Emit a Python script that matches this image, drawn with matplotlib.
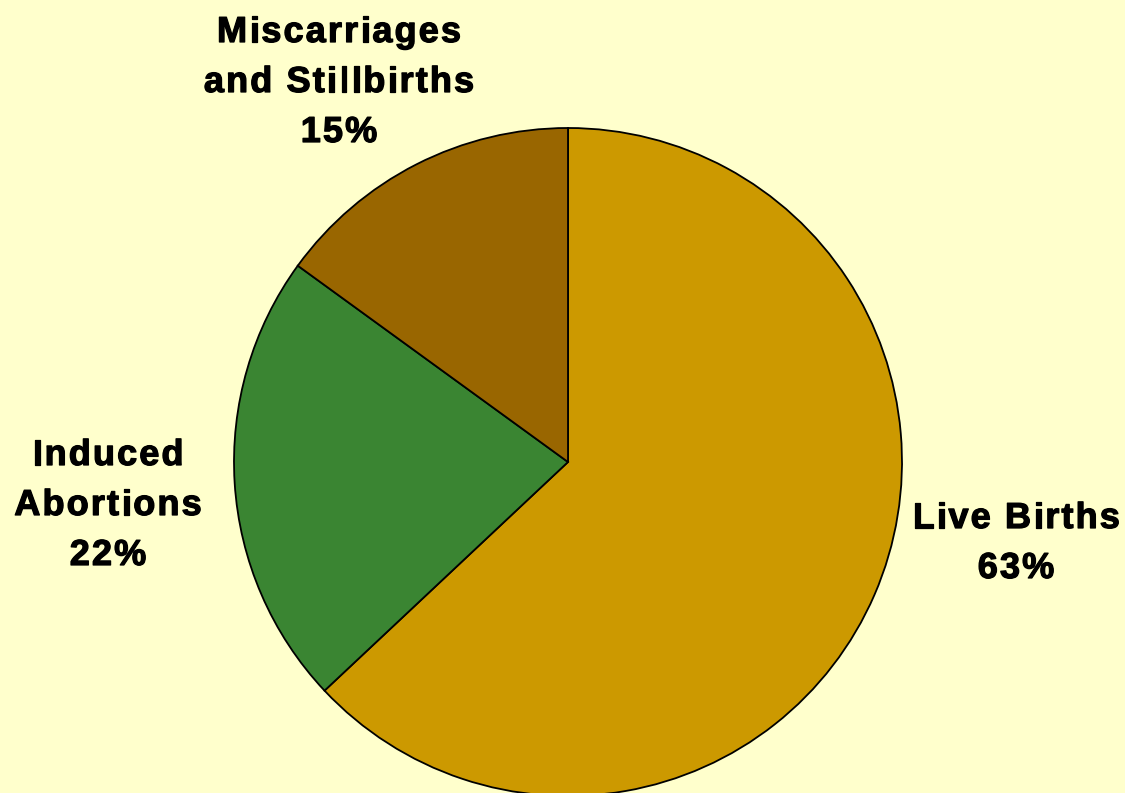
import matplotlib
matplotlib.use("Agg")
import matplotlib.pyplot as plt
import matplotlib.patheffects as pe
from matplotlib.font_manager import FontProperties, findfont
from matplotlib.ft2font import FT2Font

categories = ["Live Births", "Induced\nAbortions", "Miscarriages\nand Stillbirths"]
values = [63, 22, 15]
colors = ["#CC9900", "#3A8532", "#996600"]

W, H = 1125, 793
cx, cy, R = 568, 462, 334  # pixel centre and radius

fig = plt.figure(figsize=(W / 100, H / 100), dpi=100)
fig.patch.set_facecolor("#FFFFCC")
ax = fig.add_axes([0, 0, 1, 1])
ax.set_facecolor("#FFFFCC")
ax.pie(values, colors=colors, startangle=90, counterclock=False,
       wedgeprops=dict(edgecolor="black", linewidth=1.3), radius=1)
ax.set_xlim(-cx / R, (W - cx) / R)
ax.set_ylim(-(H - cy) / R, cy / R)
ax.set_aspect("auto")
ax.axis("off")

FS = 26
TRACK = 2.1
fp = FontProperties(family="Liberation Sans", weight="bold", size=FS)
ft = FT2Font(findfont(fp))
ft.set_size(FS, 100)

def adv(c):
    g = ft.load_char(ord(c))
    return g.linearHoriAdvance / 65536.0

effects = [pe.withStroke(linewidth=0.9, foreground="black")]

def draw_line(s, xc, yb):
    widths = [adv(c) for c in s]
    total = sum(widths) + TRACK * (len(s) - 1)
    x = xc - total / 2
    for c, w in zip(s, widths):
        fig.text(x / W, 1 - yb / H, c, ha="left", va="baseline",
                 fontproperties=fp, color="black", path_effects=effects)
        x += w + TRACK

# label centre x and first baseline y (pixels)
label_pos = [(1016, 528), (108, 465), (339, 42)]
LINE = 50
for cat, v, (x, y) in zip(categories, values, label_pos):
    lines = (cat + "\n" + f"{v}%").split("\n")
    for i, ln in enumerate(lines):
        draw_line(ln, x, y + i * LINE)

fig.savefig("out.png", dpi=100, facecolor=fig.get_facecolor())
